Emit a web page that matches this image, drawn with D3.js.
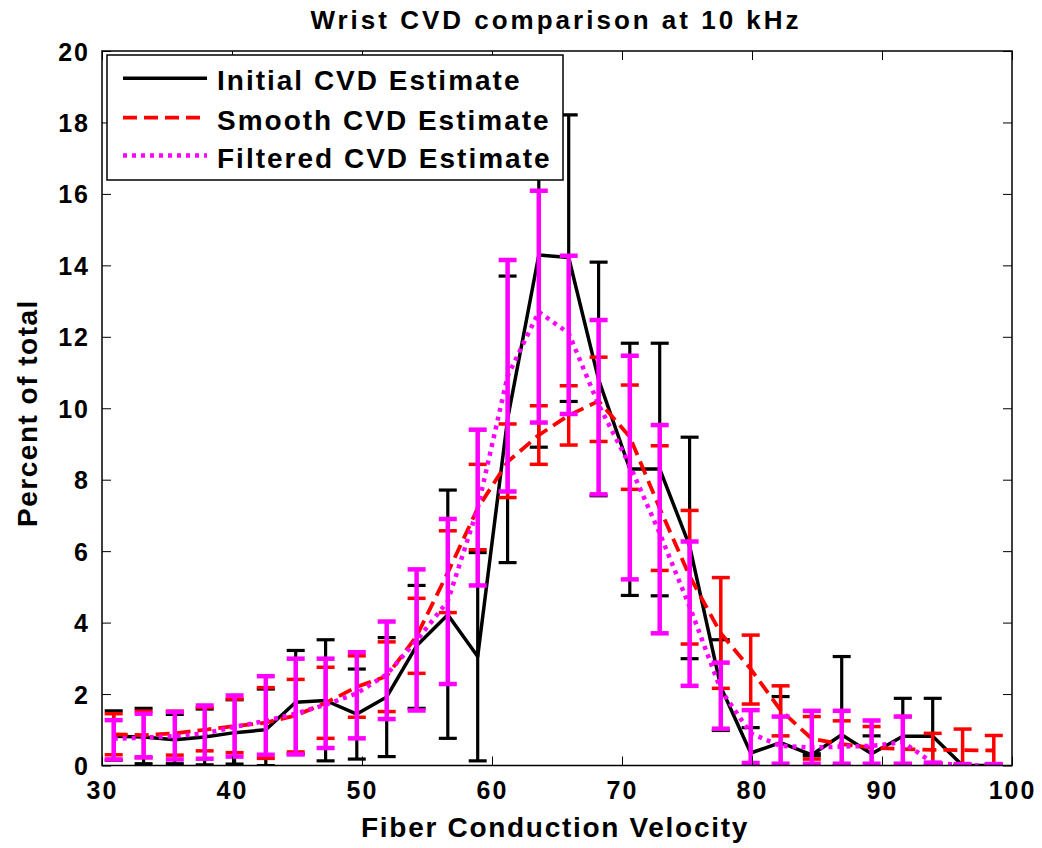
<!DOCTYPE html>
<html><head><meta charset="utf-8">
<script src="https://cdn.jsdelivr.net/npm/d3@7"></script>
<style>body{margin:0;background:#fff}</style>
</head><body>
<svg id="c" width="1042" height="848"></svg>
<script>
const title = "Wrist CVD comparison at 10 kHz";
const xLabel = "Fiber Conduction Velocity";
const yLabel = "Percent of total";
const xTicks = [30,40,50,60,70,80,90,100];
const yTicks = [0,2,4,6,8,10,12,14,16,18,20];
const seriesNames = ["Initial CVD Estimate","Smooth CVD Estimate","Filtered CVD Estimate"];

const xVals = [30.9,33.2,35.6,37.9,40.2,42.6,44.9,47.2,49.6,51.9,54.2,56.6,58.9,61.2,63.6,65.9,68.2,70.6,72.9,75.2,77.6,79.9,82.2,84.6,86.9,89.2,91.6,93.9,96.2,98.6];

const blackMean = [0.82,0.80,0.72,0.80,0.92,1.00,1.77,1.82,1.44,1.92,3.35,4.22,3.05,9.70,14.29,14.22,10.80,8.30,8.30,6.15,2.20,0.35,0.64,0.30,0.86,0.33,0.82,0.82,0.00,0.00];
const blackLo   = [0.15,0.05,0.05,0.02,0.04,0.00,0.32,0.13,0.18,0.25,1.60,0.76,0.13,5.68,8.91,10.19,7.55,4.76,4.75,2.99,0.98,-0.36,-0.65,0.27,-1.33,-0.17,-0.16,-0.22,0.00,0.00];
const blackHi   = [1.53,1.60,1.43,1.58,1.84,2.14,3.22,3.52,2.70,3.58,5.04,7.71,5.96,13.70,19.67,18.21,14.09,11.82,11.82,9.19,3.52,1.06,1.93,0.33,3.05,0.83,1.88,1.88,0.00,0.00];

const redMean = [0.87,0.85,0.90,1.00,1.10,1.20,1.40,1.75,2.20,2.50,3.62,5.40,7.20,8.50,9.25,9.80,10.20,9.20,7.20,5.30,3.70,2.70,1.55,0.75,0.60,0.50,0.46,0.44,0.43,0.42];
const redLo   = [0.30,0.22,0.29,0.41,0.36,0.20,0.38,0.76,1.35,1.51,2.58,4.28,6.04,7.50,8.43,8.97,9.07,7.73,5.46,3.40,2.16,1.72,0.83,0.18,0.00,-0.10,0.05,-0.02,0.00,0.00];
const redHi   = [1.45,1.52,1.52,1.62,1.86,2.18,2.41,2.75,3.07,3.46,4.68,6.57,8.43,9.56,10.07,10.63,11.43,10.65,8.95,7.14,5.26,3.65,2.23,1.37,1.25,1.09,1.37,0.90,1.02,0.84];

const magMean = [0.75,0.78,0.82,0.90,1.08,1.25,1.45,1.70,2.02,2.55,3.50,4.60,7.20,10.90,12.70,12.10,10.10,8.40,6.50,4.45,2.12,0.90,0.55,0.50,0.53,0.55,0.65,0.08,0.00,0.00];
const magLo   = [0.17,0.23,0.17,0.19,0.25,0.30,0.31,0.49,0.76,1.30,1.54,2.28,5.04,7.67,9.60,9.84,7.59,5.21,3.70,2.23,1.03,0.07,0.05,0.05,0.05,0.05,0.05,0.00,0.00,0.00];
const magHi   = [1.27,1.45,1.50,1.68,1.96,2.50,2.99,2.99,3.17,4.03,5.49,6.90,9.40,14.15,16.09,14.27,12.47,11.47,9.53,6.27,2.88,1.55,1.37,1.53,1.53,1.26,1.37,0.08,0.04,0.04];

const FONT = "'Liberation Sans', Arial, sans-serif";
const svg = d3.select('#c');
const L = 102, R = 1012, T = 51, B = 765.5;
const x = d3.scaleLinear().domain([30,100]).range([L,R]);
const y = d3.scaleLinear().domain([0,20]).range([B,T]);

svg.append('rect').attr('width',1042).attr('height',848).attr('fill','#fff');
svg.append('defs').append('clipPath').attr('id','clip')
  .append('rect').attr('x',L).attr('y',T).attr('width',R-L).attr('height',B-T);

const series = [
  {name: seriesNames[0], mean: blackMean, lo: blackLo, hi: blackHi, color:'#000000', lw:3.5, bw:3.2, dash:null},
  {name: seriesNames[1], mean: redMean, lo: redLo, hi: redHi, color:'#ff0000', lw:3.8, bw:3.5, dash:'14,7'},
  {name: seriesNames[2], mean: magMean, lo: magLo, hi: magHi, color:'#ff00ff', lw:4.5, bw:4.5, dash:'4,5'}
];

const plot = svg.append('g').attr('clip-path','url(#clip)');
const capHalf = 9;
series.forEach(s => {
  const g = plot.append('g');
  const idx = d3.range(xVals.length);
  g.selectAll('line.v').data(idx).join('line')
    .attr('x1', i => x(xVals[i])).attr('x2', i => x(xVals[i]))
    .attr('y1', i => y(s.lo[i])).attr('y2', i => y(s.hi[i]))
    .attr('stroke', s.color).attr('stroke-width', s.bw);
  ['lo','hi'].forEach(k => {
    g.selectAll('line.c'+k).data(idx).join('line')
      .attr('x1', i => x(xVals[i]) - capHalf).attr('x2', i => x(xVals[i]) + capHalf)
      .attr('y1', i => y(s[k][i])).attr('y2', i => y(s[k][i]))
      .attr('stroke', s.color).attr('stroke-width', s.bw);
  });
  const line = d3.line().x((d,i) => x(xVals[i])).y(d => y(d));
  g.append('path').attr('d', line(s.mean)).attr('fill','none')
    .attr('stroke', s.color).attr('stroke-width', s.lw)
    .attr('stroke-dasharray', s.dash).attr('stroke-linejoin','round');
});

// axes
const axB = svg.append('g').attr('transform',`translate(0,${B})`)
  .call(d3.axisBottom(x).tickValues(xTicks).tickSize(-9).tickFormat(d3.format('d')));
const axL = svg.append('g').attr('transform',`translate(${L},0)`)
  .call(d3.axisLeft(y).tickValues(yTicks).tickSize(-9).tickFormat(d3.format('d')));
const axT = svg.append('g').attr('transform',`translate(0,${T})`)
  .call(d3.axisTop(x).tickValues(xTicks).tickSize(-9).tickFormat(''));
const axR = svg.append('g').attr('transform',`translate(${R},0)`)
  .call(d3.axisRight(y).tickValues(yTicks).tickSize(-9).tickFormat(''));
[axB,axL,axT,axR].forEach(a => {
  a.select('.domain').remove();
  a.selectAll('.tick line').attr('stroke','#000').attr('stroke-width',1);
});
axB.selectAll('.tick text').attr('y', 33.5).attr('dy', null)
  .attr('font-family',FONT).attr('font-weight','bold').attr('font-size',25)
  .attr('letter-spacing',2).attr('fill','#000');
axL.selectAll('.tick text').attr('x', -12).attr('dy','0.36em')
  .attr('font-family',FONT).attr('font-weight','bold').attr('font-size',25)
  .attr('letter-spacing',2).attr('fill','#000');
svg.append('rect').attr('x',L).attr('y',T).attr('width',R-L).attr('height',B-T)
  .attr('fill','none').attr('stroke','#000').attr('stroke-width',1.5);

// legend
const lg = svg.append('g');
lg.append('rect').attr('x',107).attr('y',55).attr('width',456).attr('height',125)
  .attr('fill','#fff').attr('stroke','#000').attr('stroke-width',1.5);
const rowY = [78.3, 117.7, 155.5];
series.forEach((s,i) => {
  lg.append('line').attr('x1',123).attr('x2',207).attr('y1',rowY[i]).attr('y2',rowY[i])
    .attr('stroke',s.color).attr('stroke-width',s.lw).attr('stroke-dasharray',s.dash);
  lg.append('text').attr('x',217).attr('y',rowY[i]+12).text(s.name)
    .attr('font-family',FONT).attr('font-weight','bold').attr('font-size',28)
    .attr('letter-spacing',2).attr('fill','#000');
});

// titles
svg.append('text').attr('x',556).attr('y',29).attr('text-anchor','middle').text(title)
  .attr('font-family',FONT).attr('font-weight','bold').attr('font-size',26)
  .attr('letter-spacing',3).attr('fill','#000');
svg.append('text').attr('x',555).attr('y',837).attr('text-anchor','middle').text(xLabel)
  .attr('font-family',FONT).attr('font-weight','bold').attr('font-size',28)
  .attr('letter-spacing',1.7).attr('fill','#000');
svg.append('text').attr('transform','translate(37,413) rotate(-90)').attr('text-anchor','middle').text(yLabel)
  .attr('font-family',FONT).attr('font-weight','bold').attr('font-size',28)
  .attr('letter-spacing',1.5).attr('fill','#000');
</script>
</body></html>
